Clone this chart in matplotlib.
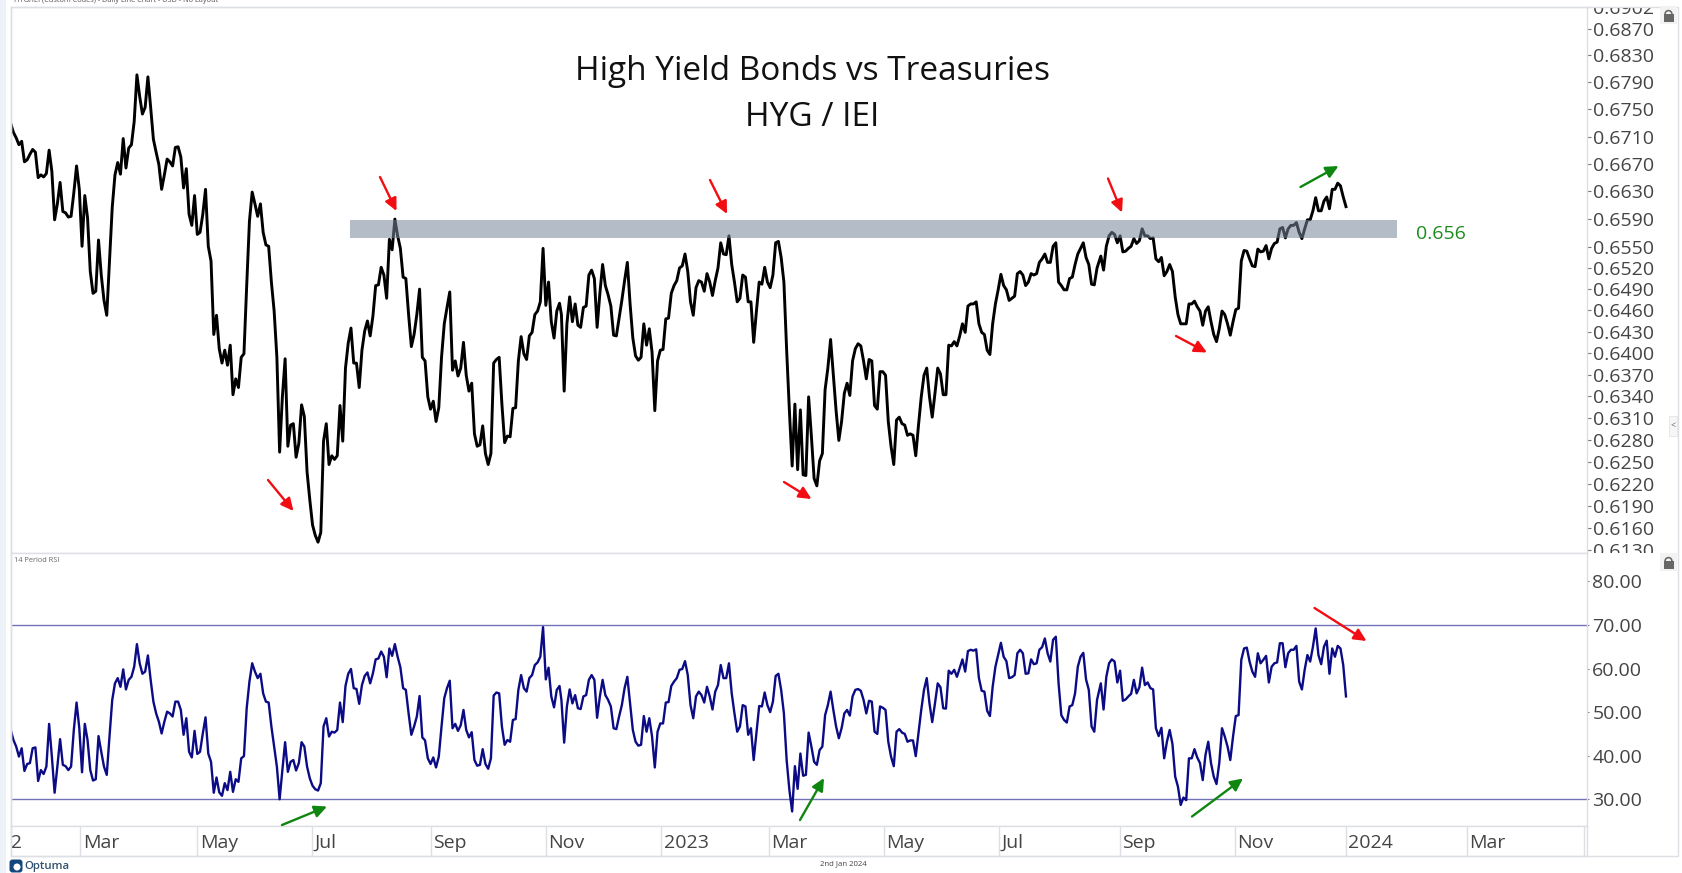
import numpy as np
import pandas as pd
import matplotlib
matplotlib.use("Agg")
import matplotlib.pyplot as plt
from matplotlib.patches import FancyArrowPatch, Rectangle, Circle, Wedge, FancyBboxPatch
from matplotlib.ticker import NullLocator
from matplotlib.transforms import Affine2D, Bbox, TransformedBbox

plt.rcParams['font.family'] = ['Open Sans', 'DejaVu Sans']

W, H = 1683, 873

# HYG / IEI ratio in three stretches
price_a = [
    .6729, .6716, .6708, .6698, .6703, .6673, .6676, .6684, .6691, .6687, .6650, .6654, .6651, .6656, .6690, .6659,
    .6589, .6612, .6643, .6601, .6599, .6593, .6594, .6628, .6667, .6633, .6551, .6624, .6592, .6515, .6484, .6487,
    .6560, .6510, .6474, .6453, .6530, .6607, .6654, .6672, .6655, .6707, .6664, .6693, .6698, .6732, .6801, .6769,
    .6743, .6753, .6798, .6753, .6706, .6687, .6669, .6633, .6654, .6677, .6673, .6667, .6694, .6695, .6680, .6635,
    .6663, .6597, .6581, .6624, .6568, .6571, .6597, .6633, .6551, .6530, .6426, .6453, .6406, .6386, .6404, .6383,
    .6411, .6342, .6364, .6352, .6394, .6399, .6495, .6587, .6629, .6612, .6594, .6612, .6571, .6553, .6551, .6500,
    .6459, .6394, .6263, .6339, .6392, .6271, .6300, .6302, .6256, .6275, .6328, .6312, .6236, .6198, .6164, .6150,
    .6141, .6154, .6278, .6302, .6246, .6258, .6253, .6258, .6327, .6278, .6379, .6414, .6435, .6386, .6386, .6352,
    .6404, .6431, .6445, .6424, .6452, .6495, .6496, .6521, .6510, .6477, .6561, .6546, .6590, .6566, .6548, .6507,
    .6505, .6454, .6409, .6426, .6454, .6490, .6394, .6389, .6339, .6322, .6333, .6305, .6324, .6394, .6441, .6464,
    .6486, .6376, .6389, .6368, .6379, .6415, .6369, .6347, .6358, .6288, .6271, .6273, .6299, .6261, .6246, .6261,
    .6386, .6391, .6394, .6329, .6276, .6285, .6284, .6323, .6324, .6389, .6423, .6399, .6391, .6424, .6429, .6454,
    .6459, .6472, .6548, .6467, .6500, .6444, .6421, .6459, .6470,
]
price_b = [
    .6454, .6347, .6441, .6479, .6444, .6469, .6439, .6436, .6464, .6466, .6510, .6517, .6505, .6436, .6484, .6525,
    .6495, .6482, .6466, .6425, .6424, .6449, .6474, .6502, .6528, .6469, .6421, .6396, .6390, .6394, .6441, .6411,
    .6434, .6401, .6320, .6389, .6404, .6405, .6448, .6449, .6484, .6495, .6502, .6520, .6523, .6540, .6515, .6472,
    .6453, .6492, .6502, .6500, .6487, .6512, .6500, .6481, .6502, .6520, .6556, .6540, .6539, .6566, .6525, .6500,
    .6472, .6477, .6510, .6507, .6472, .6472, .6415, .6459, .6500, .6497, .6521, .6500, .6492, .6510, .6556, .6558,
    .6535, .6500, .6404, .6320, .6244, .6329, .6239, .6321, .6232, .6231, .6339, .6285, .6227, .6217, .6251, .6261,
    .6349, .6379, .6419, .6369, .6320, .6279, .6305, .6344, .6358, .6341, .6389, .6406, .6413, .6410, .6389, .6364,
    .6391, .6389, .6327, .6322, .6374, .6374, .6369, .6305, .6271, .6246, .6307, .6311, .6302, .6300, .6286, .6288,
    .6286, .6258, .6300, .6339, .6369, .6379, .6339, .6311, .6344, .6379, .6371, .6342, .6342, .6411, .6410, .6416,
    .6410, .6424, .6441, .6429, .6466, .6469, .6469, .6472, .6441, .6429, .6426, .6404, .6398, .6441, .6469, .6489,
    .6511, .6495, .6489, .6474, .6477, .6480, .6512, .6515, .6510, .6495, .6500, .6512, .6510, .6512, .6528, .6533,
    .6540, .6528, .6528, .6551, .6556, .6500, .6495, .6489, .6489, .6505, .6507, .6525, .6540, .6548, .6556, .6535,
    .6525, .6497, .6496, .6520,
]
price_c = [
    .6537, .6517, .6551, .6566, .6571, .6568, .6556, .6566, .6543, .6544, .6548, .6551, .6562, .6555, .6559, .6576,
    .6566, .6566, .6562, .6563, .6533, .6529, .6535, .6509, .6515, .6525, .6515, .6479, .6454, .6441, .6441, .6441,
    .6469, .6469, .6473, .6465, .6459, .6439, .6459, .6465, .6444, .6426, .6416, .6434, .6459, .6454, .6441, .6425,
    .6444, .6461, .6463, .6530, .6545, .6544, .6533, .6523, .6522, .6547, .6543, .6544, .6552, .6533, .6548, .6555,
    .6557, .6576, .6578, .6563, .6576, .6581, .6581, .6585, .6571, .6562, .6576, .6589, .6589, .6602, .6621, .6602,
    .6602, .6616, .6622, .6605, .6633, .6633, .6642, .6638, .6622, .6608,
]

# 14 period RSI on the same sessions
rsi_a = [
    45.9, 43.6, 42.1, 39.8, 41.7, 36.5, 38.1, 38.3, 41.7, 41.9, 34.2, 36.7, 35.8, 37.5, 47.3, 39.8,
    31.5, 37.5, 43.8, 37.9, 37.6, 36.7, 37.5, 45.9, 52.2, 46.3, 36.2, 47.3, 43.6, 36.7, 34.3, 34.6,
    44.5, 40.9, 37.5, 35.6, 44.4, 52.8, 56.6, 57.8, 55.8, 59.8, 55.2, 57.4, 58.1, 60.4, 65.6, 61.2,
    58.8, 59.3, 63.0, 57.4, 52.4, 49.7, 47.8, 45.1, 47.8, 50.1, 49.7, 49.0, 52.4, 52.4, 50.5, 44.8,
    48.6, 40.9, 39.6, 45.7, 40.4, 40.9, 45.1, 48.8, 40.5, 38.6, 31.5, 35.0, 31.6, 30.8, 33.7, 32.1,
    36.3, 31.7, 34.6, 34.0, 39.4, 39.9, 50.9, 57.0, 61.2, 59.3, 57.8, 58.8, 54.3, 52.4, 52.2, 46.7,
    42.1, 37.5, 30.0, 36.7, 43.1, 36.3, 38.6, 39.0, 36.6, 38.3, 43.1, 42.1, 37.5, 34.8, 33.1, 32.3,
    32.0, 33.7, 46.7, 48.6, 44.4, 45.5, 45.3, 45.9, 52.2, 47.7, 56.0, 58.8, 59.9, 55.5, 55.3, 51.9,
    56.2, 58.3, 59.1, 56.6, 58.9, 62.1, 62.3, 63.9, 62.7, 58.0, 64.6, 62.9, 65.6, 62.7, 60.3, 55.5,
    55.1, 49.7, 44.8, 46.7, 49.0, 53.7, 44.2, 43.5, 39.4, 38.1, 39.6, 37.3, 39.8, 46.7, 53.2, 55.5,
    57.2, 46.3, 47.3, 45.7, 47.0, 50.5, 45.9, 44.2, 45.4, 39.0, 37.7, 37.9, 41.5, 38.1, 37.0, 39.4,
    53.8, 54.5, 54.3, 46.7, 42.5, 43.6, 43.2, 48.2, 48.4, 55.1, 58.5, 55.5, 54.7, 57.8, 58.5, 60.8,
    61.4, 62.7, 69.5, 57.5, 60.2, 53.6, 51.1, 55.1, 56.0,
]
rsi_b = [
    52.8, 43.0, 51.3, 55.2, 52.0, 53.9, 50.9, 50.7, 53.6, 53.9, 57.4, 58.5, 57.4, 48.7, 53.6, 57.4,
    53.9, 52.8, 51.3, 46.3, 46.1, 49.0, 51.6, 55.5, 58.1, 52.0, 45.9, 43.2, 42.3, 42.5, 49.1, 45.5,
    48.6, 44.4, 37.3, 45.5, 47.4, 47.4, 52.2, 52.3, 56.0, 57.0, 57.8, 59.7, 59.9, 61.7, 58.5, 51.6,
    48.6, 53.6, 54.7, 53.9, 52.2, 55.8, 53.6, 50.6, 54.7, 56.2, 60.8, 57.8, 57.8, 61.2, 54.3, 49.7,
    45.5, 46.7, 51.6, 51.3, 44.8, 46.3, 39.0, 45.1, 51.4, 51.3, 54.5, 51.6, 50.0, 52.4, 58.3, 58.8,
    55.1, 49.7, 39.0, 32.1, 27.2, 37.6, 32.4, 40.5, 35.4, 35.6, 45.3, 42.1, 38.6, 37.9, 41.3, 42.1,
    49.3, 51.6, 54.7, 50.5, 46.7, 44.0, 46.3, 49.7, 50.5, 49.2, 53.6, 55.1, 55.3, 54.9, 52.8, 49.7,
    52.6, 52.4, 45.5, 45.0, 51.3, 51.0, 50.5, 43.2, 39.8, 37.6, 45.5, 46.1, 45.3, 45.0, 43.2, 43.5,
    43.5, 39.9, 45.1, 50.5, 55.1, 57.8, 52.0, 47.7, 52.0, 56.6, 55.7, 50.9, 50.8, 59.5, 58.8, 59.7,
    58.1, 60.1, 62.1, 59.3, 64.0, 64.3, 64.1, 64.4, 57.8, 54.9, 54.7, 50.3, 49.1, 55.8, 60.4, 63.1,
    65.9, 62.7, 61.7, 57.8, 58.0, 58.5, 63.5, 64.3, 63.5, 58.8, 58.9, 62.1, 61.0, 61.2, 64.3, 64.9,
    66.9, 63.5, 61.6, 66.6, 67.3, 56.6, 49.3, 48.2, 47.6, 51.3, 51.6, 54.3, 60.4, 62.7, 63.6, 57.5,
    55.1, 46.7, 45.5, 52.8,
]
rsi_c = [
    56.6, 50.6, 58.1, 61.2, 62.1, 61.6, 56.8, 59.5, 52.6, 52.9, 53.6, 54.2, 57.4, 54.3, 55.7, 60.2,
    56.2, 56.8, 55.5, 55.2, 46.3, 44.5, 46.4, 39.4, 43.2, 45.9, 42.7, 35.2, 32.9, 28.7, 30.4, 29.8,
    39.4, 39.4, 41.5, 39.6, 38.3, 34.4, 40.2, 43.2, 38.3, 35.2, 33.5, 38.3, 46.3, 44.4, 42.1, 39.0,
    44.4, 49.1, 49.3, 62.0, 64.6, 64.8, 61.6, 59.3, 58.1, 63.5, 61.2, 62.0, 62.9, 56.8, 60.4, 61.2,
    61.4, 65.8, 65.8, 60.3, 63.5, 64.3, 64.3, 65.2, 57.0, 55.2, 59.7, 63.1, 61.6, 65.0, 69.2, 63.1,
    61.0, 65.0, 66.4, 58.8, 64.6, 62.7, 65.2, 64.6, 60.8, 53.6,
]

# first and last session of each stretch
stretch_a = ('2022-01-23', '2022-11-10')
stretch_b = ('2022-11-11', '2023-08-22')
stretch_c = ('2023-08-24', '2024-01-01')

price_ticks = [.6130, .6160, .6190, .6220, .6250, .6280, .6310, .6340, .6370, .6400, .6430, .6460, .6490, .6520,
               .6550, .6590, .6630, .6670, .6710, .6750, .6790, .6830, .6870, .6902]
rsi_ticks = [30, 40, 50, 60, 70, 80]
# the chart's time scale is not quite even, these sit where its month marks do
date_ticks = ['2022-01-04', '2022-03-01', '2022-05-02', '2022-07-02', '2022-09-03', '2022-11-03', '2023-01-03',
              '2023-03-01', '2023-05-01', '2023-07-01', '2023-09-03', '2023-11-03', '2024-01-01', '2024-03-05', '2024-05-06']
date_labels = ['2022', 'Mar', 'May', 'Jul', 'Sep', 'Nov', '2023', 'Mar', 'May', 'Jul', 'Sep', 'Nov', '2024', 'Mar', '']

band_low, band_high = .6563, .6589
band_dates = ('2022-07-22', '2024-01-28')
rsi_levels = [70, 30]

# annotation arrows, tail and head in picture pixels
red_arrows = [((380, 177), (396.5, 211)), ((268, 480), (293.5, 511)), ((710, 180), (727, 214)),
              ((784, 482), (811.5, 499)), ((1108, 178.5), (1122, 212.5)), ((1176, 336), (1207, 352.5)),
              ((1314.5, 608), (1366.5, 641))]
green_arrows = [((1300.5, 187), (1338.5, 166)), ((282, 825), (327, 806.5)), ((800, 820), (824, 778)),
                ((1192, 816.5), (1243, 778.5))]

LEFT, AXIS_X, RIGHT = 10.7, 1587, 1678
TOP, PANE_Y, RSI_Y, BOTTOM = 6.5, 552.6, 826.3, 856
BORDER = '#dcdfe3'
TEXT = '#444444'


def px_axes(fig, x0, y0, x1, y1, **kw):
    return fig.add_axes([x0 / W, 1 - y1 / H, (x1 - x0) / W, (y1 - y0) / H], **kw)


def stretch_dates(stretch, values):
    return pd.date_range(stretch[0], stretch[1], periods=len(values))


def clip_labels(ax, axis):
    # tick labels stop at the edge of their pane, as in the original
    box = TransformedBbox(Bbox([[0, 0], [(RIGHT - LEFT) / (AXIS_X - LEFT), 1]]), ax.transAxes)
    for label in axis.get_ticklabels():
        label.set_clip_box(box)
        label.set_clip_on(True)


fig = plt.figure(figsize=(W / 100, H / 100), dpi=100, facecolor='white')
to_px = Affine2D().scale(1, -1).translate(0, H)

# pale strip down the left of the window
fig.add_artist(Rectangle((0, 0), 6, H, transform=to_px, facecolor='#edf2f9', edgecolor='none'))

x_start = pd.Timestamp('2022-01-23')
x_lim = [x_start, x_start + pd.Timedelta(days=(AXIS_X - LEFT) / 1.886)]

ax = px_axes(fig, LEFT, TOP, AXIS_X, PANE_Y)
price_dates = np.concatenate([stretch_dates(stretch_a, price_a), stretch_dates(stretch_b, price_b),
                              stretch_dates(stretch_c, price_c)])
ax.plot(price_dates, price_a + price_b + price_c, color='black', lw=2.1, solid_joinstyle='round', zorder=2)
ax.fill_between(pd.to_datetime(band_dates), band_low, band_high, color='#77859a', alpha=0.55, lw=0, zorder=3)
ax.set_yscale('log')
ax.set_xlim(x_lim)
ax.set_ylim(.6127, .69033)
ax.set_xticks([])
ax.yaxis.set_ticks_position('right')
ax.set_yticks(price_ticks)
ax.set_yticklabels(['%.4f' % t for t in price_ticks])
ax.yaxis.set_minor_locator(NullLocator())
ax.tick_params(axis='y', length=3.2, width=0.8, color='#777777', labelcolor=TEXT, labelsize=14, pad=0.8)
clip_labels(ax, ax.yaxis)

rsi_ax = px_axes(fig, LEFT, PANE_Y, AXIS_X, RSI_Y)
rsi_dates = np.concatenate([stretch_dates(stretch_a, rsi_a), stretch_dates(stretch_b, rsi_b),
                            stretch_dates(stretch_c, rsi_c)])
for level in rsi_levels:
    rsi_ax.axhline(level, color='#7272b8', lw=1.0, zorder=1)
rsi_ax.plot(rsi_dates, rsi_a + rsi_b + rsi_c, color='#0b0b85', lw=1.7, solid_joinstyle='round', zorder=2)
rsi_ax.set_xlim(x_lim)
rsi_ax.set_ylim(23.8, 86.6)
rsi_ax.set_xticks([])
rsi_ax.yaxis.set_ticks_position('right')
rsi_ax.set_yticks(rsi_ticks)
rsi_ax.set_yticklabels(['%.2f' % t for t in rsi_ticks])
rsi_ax.tick_params(axis='y', length=1.6, width=0.8, color='#777777', labelcolor=TEXT, labelsize=14, pad=2.2)

date_ax = px_axes(fig, LEFT, RSI_Y, AXIS_X, BOTTOM)
date_ax.set_xlim(x_lim)
date_ax.set_ylim(0, 1)
date_ax.set_yticks([])
date_ax.set_xticks([])
for tick, label in zip(pd.to_datetime(date_ticks), date_labels):
    date_ax.axvline(tick, color=BORDER, lw=1.0)
    t = date_ax.annotate(label, (tick, 0.44), xytext=(1.6, 0), textcoords='offset points', ha='left', va='center',
                         fontsize=14, color=TEXT, annotation_clip=False)
    t.set_clip_path(date_ax.patch)
    t.set_clip_on(True)

for a in (ax, rsi_ax, date_ax):
    for side in a.spines:
        a.spines[side].set_color(BORDER)
        a.spines[side].set_linewidth(1.0)

# outer frame to the right of the value axes
fig.add_artist(Rectangle((LEFT, TOP), RIGHT - LEFT, BOTTOM - TOP, transform=to_px, fill=False, edgecolor=BORDER, lw=1.0))

# titles and notes
ax.text(812.5, 71, 'High Yield Bonds vs Treasuries', transform=to_px, ha='center', va='center', fontsize=24, color='#111111')
ax.text(812, 118, 'HYG / IEI', transform=to_px, ha='center', va='center', fontsize=24, color='#111111')
ax.text(1416, 234, '0.656', transform=to_px, ha='left', va='center', fontsize=14, color='#1d8a1d')
fig.text(14 / W, 1 - 0.5 / H, 'HYG/IEI (Custom Codes) - Daily Line Chart - USD - No Layout', ha='left', va='center',
         fontsize=5.3, color='#555555')
fig.text(14 / W, 1 - 561 / H, '14 Period RSI', ha='left', va='center', fontsize=5.3, color='#666666')
fig.text(843.5 / W, 1 - 864 / H, '2nd Jan 2024', ha='center', va='center', fontsize=5.6, color='#444444')
fig.text(24 / W, 1 - 866.5 / H, 'Optuma', ha='left', va='center', fontsize=8.2, color='#33506f', fontweight='semibold')

# logo mark
fig.add_artist(FancyBboxPatch((9.5, 859.5), 13, 13, boxstyle='round,pad=0,rounding_size=3', transform=to_px,
                              facecolor='#14477d', edgecolor='none'))
fig.add_artist(Circle((17, 867), 3.5, transform=to_px, facecolor='white', edgecolor='none'))

# padlocks and the side tab
for y in (8, 555):
    fig.add_artist(Rectangle((1660, y - 2), 17, 18, transform=to_px, facecolor='#f2f2f2', edgecolor='none'))
    fig.add_artist(Wedge((1668.5, y + 6), 4.2, 180, 360, width=1.6, transform=to_px, facecolor='#666666', edgecolor='none'))
    fig.add_artist(Rectangle((1663.5, y + 6), 10, 8, transform=to_px, facecolor='#666666', edgecolor='none'))
fig.add_artist(Rectangle((1669, 416), 8, 20, transform=to_px, facecolor='#f6f6f6', edgecolor='#e4e4e4', lw=0.6))
fig.text(1673 / W, 1 - 426 / H, '<', ha='center', va='center', fontsize=6.5, color='#666666')

for arrows, color in [(red_arrows, '#f20d12'), (green_arrows, '#0f860f')]:
    for tail, head in arrows:
        fig.add_artist(FancyArrowPatch(tail, head, transform=to_px, arrowstyle='-|>,head_length=0.62,head_width=0.3',
                                       mutation_scale=12, lw=1.7, color=color, shrinkA=0, shrinkB=0, zorder=5))

fig.savefig('out.png', dpi=100)
